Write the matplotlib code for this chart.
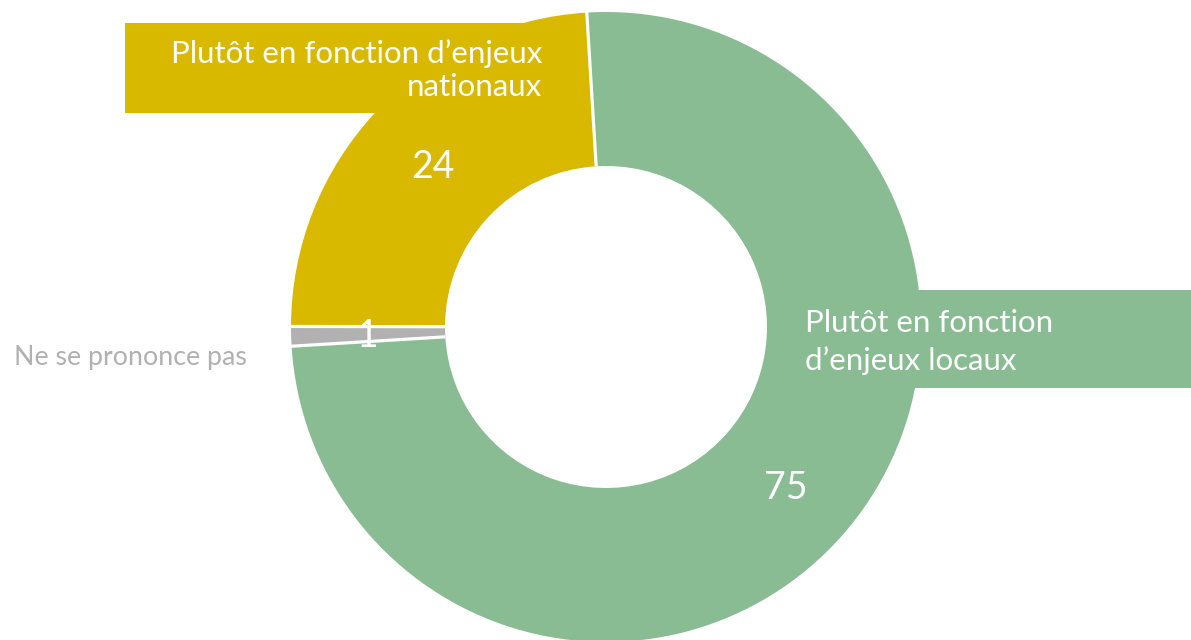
import numpy as np
import matplotlib.pyplot as plt
from matplotlib.patches import Rectangle

# données (ordre horaire depuis le haut)
categories = ["Plutôt en fonction\nd’enjeux locaux",
              "Ne se prononce pas",
              "Plutôt en fonction d’enjeux\nnationaux"]
values = [75, 1, 24]
colors = ["#8ABC94", "#B1B1B1", "#D9B900"]

plt.rcParams['font.family'] = ['Lato', 'DejaVu Sans']

fig = plt.figure(figsize=(11.91, 6.40), dpi=100)
ax = fig.add_axes([0, 0, 1, 1])

cx, cy, R, W = 606, 313, 315, 154
start = 93.5

wedges, _ = ax.pie(values, colors=colors, startangle=start, counterclock=False,
                   center=(cx, cy), radius=R, frame=True,
                   wedgeprops=dict(width=W, linewidth=0))
for w in wedges:
    w.set_zorder(3)

# séparateurs blancs entre les secteurs (seulement radiaux)
bounds = start - 360 * np.cumsum([0] + values[:-1]) / sum(values)
for a in np.deg2rad(bounds):
    ax.plot([cx + (R - W) * np.cos(a), cx + (R + 1) * np.cos(a)],
            [cy + (R - W) * np.sin(a), cy + (R + 1) * np.sin(a)],
            color='white', lw=2.3, zorder=4, solid_capstyle='butt')

ax.set_xlim(0, 1191)
ax.set_ylim(0, 640)
ax.set_aspect('equal')
ax.axis('off')

# bandeaux derrière l'anneau
ax.add_patch(Rectangle((125, 527), 455, 90, color=colors[2], zorder=1, lw=0))
ax.add_patch(Rectangle((850, 252), 400, 98, color=colors[0], zorder=1, lw=0))

# libellés
ax.text(542, 570, categories[2], ha='right', va='center', multialignment='right',
        color='white', fontsize=22.5, linespacing=1.22, zorder=5)
ax.text(805, 298, categories[0], ha='left', va='center',
        color='white', fontsize=22.5, linespacing=1.35, zorder=5)
ax.text(14, 283, categories[1], ha='left', va='center',
        color='#B1B1B1', fontsize=19.3, zorder=5)

# valeurs
ax.text(433, 473, str(values[2]), ha='center', va='center', color='white',
        fontsize=27, zorder=5)
ax.text(786, 152, str(values[0]), ha='center', va='center', color='white',
        fontsize=27, zorder=5)
ax.text(368, 304, str(values[1]), ha='center', va='center', color='white',
        fontsize=27, zorder=5)

fig.savefig('out.png', dpi=100)
